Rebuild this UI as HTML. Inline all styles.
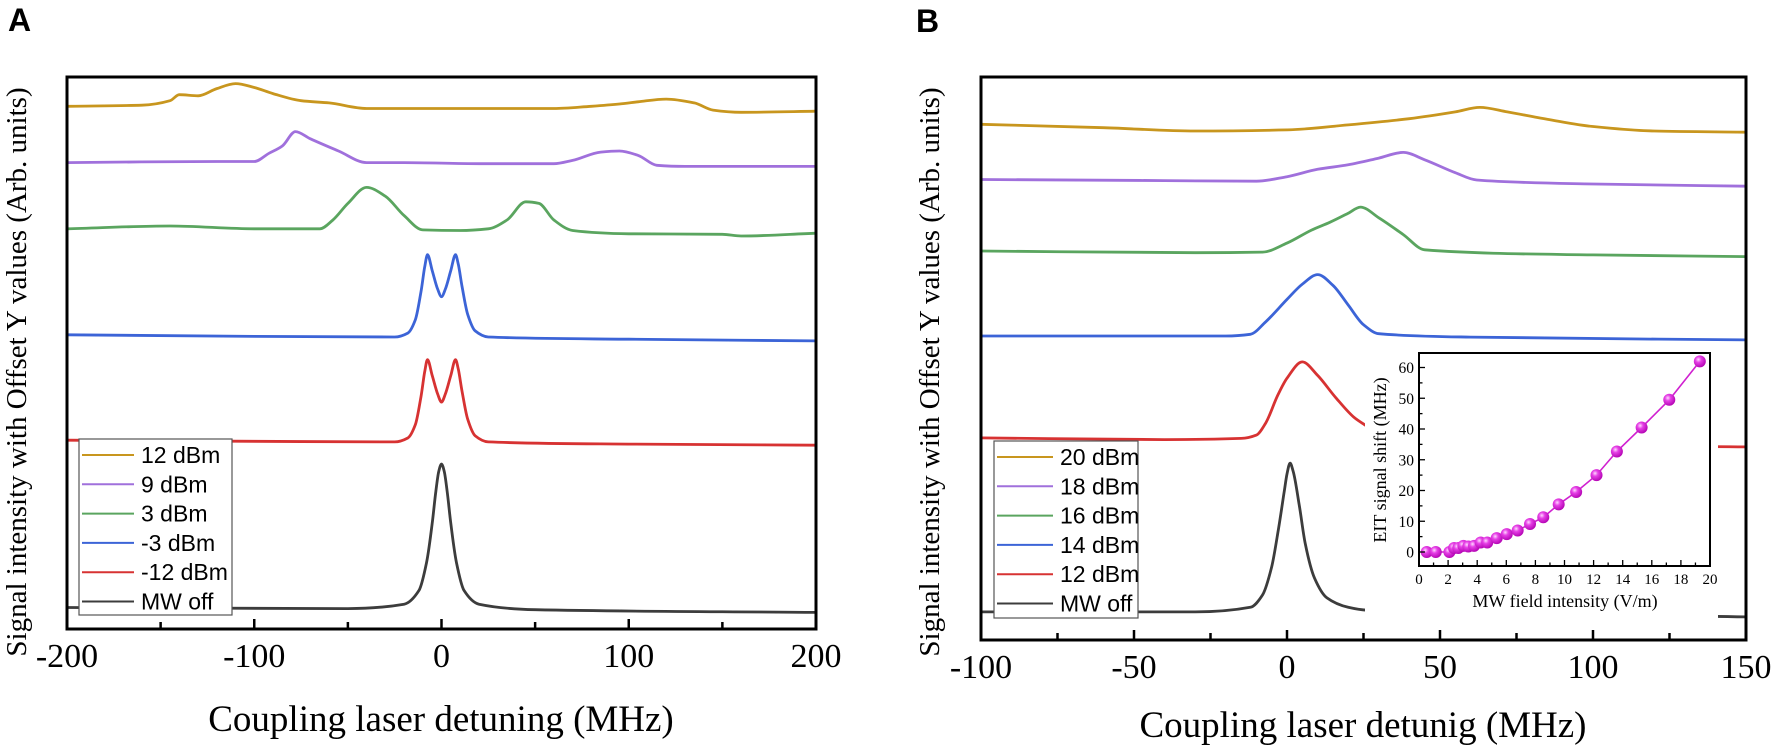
<!DOCTYPE html>
<html><head><meta charset="utf-8"><style>
html,body{margin:0;padding:0;background:#fff;}
svg{display:block;}
.serif{font-family:"Liberation Serif",serif;}
.sans{font-family:"Liberation Sans",sans-serif;}
</style></head><body>
<svg id="fig" width="1772" height="749" viewBox="0 0 1772 749" xmlns="http://www.w3.org/2000/svg">
<defs>
<radialGradient id="ballGrad" cx="0.38" cy="0.35" r="0.7">
<stop offset="0" stop-color="#ffd9ff"/><stop offset="0.35" stop-color="#e640e6"/><stop offset="1" stop-color="#b000b0"/>
</radialGradient>
</defs>
<g id="panelA"></g>
<g id="panelB"></g>
<g id="inset"></g>
</svg>
<script>
// ---------- Panel A data ----------
const aGoldX=[-200,-160,-145,-140,-130,-120,-110,-100,-90,-75,-60,-40,0,60,80,95,105,120,135,145,160,200];
const aGoldY=[94.7,94.9,95.7,96.8,96.6,97.9,98.8,98.1,97.0,95.7,95.3,94.3,94.3,94.3,94.7,95.1,95.5,96.0,95.3,94.0,93.6,93.8];
const aPurpleX=[-200,-120,-100,-92,-85,-78,-70,-55,-40,-20,20,60,70,85,95,105,115,130,200];
const aPurpleY=[84.5,84.7,84.7,86.2,87.5,90.1,88.8,86.6,84.5,84.5,84.3,84.3,84.9,86.4,86.6,85.8,84.0,83.8,83.8];
const aGreenX=[-200,-145,-100,-65,-58,-50,-40,-30,-20,-10,10,25,35,45,52,60,70,100,150,160,200];
const aGreenY=[72.5,73.0,72.5,72.5,74.1,77.1,80.0,78.4,74.9,72.3,72.2,72.5,74.1,77.4,77.1,74.1,72.2,71.6,71.5,71.2,71.7];
const aBlueX=[-200,-100,-25,-18,-14,-11,-9,-7.5,-5,-2,0,2,5,7.5,9,11,14,18,25,100,200];
const aBlueY=[53.3,53.0,52.9,53.6,56,61,65.5,67.8,65,61.5,60.2,61.5,65,67.8,66,62,57,54,52.9,52.5,52.2];
const aRedX=[-200,-100,-25,-18,-14,-11,-9,-7.5,-5,-2,0,2,5,7.5,9,11,14,18,25,100,200];
const aRedY=[34.2,34.0,33.9,34.6,37,42,46.5,48.8,46,42.5,41.1,42.5,46,48.8,47,43,38,35,33.9,33.5,33.3];
const aBlackX=[-200,-50,-20,-12,-8,-5,-3,-1.5,0,1.5,3,5,8,12,20,50,200];
const aBlackY=[3.9,3.7,4.5,7,12,19,25,28.5,29.9,28.5,25,19,12,7,4.5,3.5,3.0];
const aTicks=[-200,-100,0,100,200];
const aLegend=["12 dBm","9 dBm","3 dBm","-3 dBm","-12 dBm","MW off"];

// ---------- Panel B data ----------
const bGoldX=[-100,-60,-30,0,20,40,55,63,72,85,100,120,150];
const bGoldY=[91.6,91.0,90.4,90.6,91.5,92.6,93.8,94.6,93.8,92.5,91.2,90.4,90.2];
const bPurpleX=[-100,-40,-10,0,10,20,30,38,45,55,62,100,150];
const bPurpleY=[81.8,81.6,81.5,82.3,83.6,84.4,85.6,86.6,85.3,83,81.7,81,80.6];
const bGreenX=[-100,-30,-8,0,8,14,20,24,30,38,45,100,150];
const bGreenY=[69.1,68.8,68.9,70.5,72.8,74.2,75.8,76.9,75,72,69.3,68.4,68.1];
const bBlueX=[-100,-20,-12,-7,0,5,10,15,20,25,30,60,150];
const bBlueY=[54,54,54.3,56.5,60.5,63.2,64.9,63,59.5,56,54.4,53.8,53.3];
const bRedX=[-100,-40,-15,-10,-7,-3,0,5,10,16,22,26,30,60,150];
const bRedY=[35.9,35.6,35.8,36.4,38.5,43.5,46.5,49.4,47,43,39.5,38,36.5,34.8,34.3];
const bBlackX=[-100,-30,-12,-8,-5,-3,-1,0,1,2,4,6,9,13,20,26,150];
const bBlackY=[5,5,5.8,8,13,19,26,29.5,31.4,30,24,17,11,7.5,5.8,5.3,4.1];
const bTicks=[-100,-50,0,50,100,150];
const bLegend=["20 dBm","18 dBm","16 dBm","14 dBm","12 dBm","MW off"];

// ---------- Inset data ----------
const insetField=[0.53,1.15,2.09,2.41,2.7,3.05,3.39,3.78,4.24,4.69,5.34,6.03,6.78,7.63,8.54,9.6,10.8,12.2,13.6,15.3,17.2,19.3];
const insetShift=[0,0,0,1.3,1.3,2,1.8,2,3.1,3.1,4.5,5.8,7,9.1,11.3,15.5,19.5,25,32.7,40.5,49.5,62];
const insetXTicks=[0,2,4,6,8,10,12,14,16,18,20];
const insetYTicks=[0,10,20,30,40,50,60];

const colors=["#c8961e","#a070dc","#5aa55f","#3c64d7","#d73232","#3c3c3c"];
const NS="http://www.w3.org/2000/svg";
function mk(tag,attrs,parent){const e=document.createElementNS(NS,tag);for(const k in attrs)e.setAttribute(k,attrs[k]);if(parent)parent.appendChild(e);return e;}
// monotone cubic (Fritsch-Carlson) path through points with increasing x
function monoPath(pts){
  const n=pts.length;const dx=[],m=[],t=[];
  for(let i=0;i<n-1;i++){dx[i]=pts[i+1][0]-pts[i][0];m[i]=(pts[i+1][1]-pts[i][1])/dx[i];}
  t[0]=m[0];t[n-1]=m[n-2];
  for(let i=1;i<n-1;i++){
    if(m[i-1]*m[i]<=0)t[i]=0;
    else{const w1=2*dx[i]+dx[i-1],w2=dx[i]+2*dx[i-1];t[i]=(w1+w2)/(w1/m[i-1]+w2/m[i]);}
  }
  let d="M"+pts[0][0].toFixed(1)+","+pts[0][1].toFixed(1);
  for(let i=0;i<n-1;i++){
    const h=dx[i]/3;
    d+=" C"+(pts[i][0]+h).toFixed(1)+","+(pts[i][1]+t[i]*h).toFixed(1)+" "+(pts[i+1][0]-h).toFixed(1)+","+(pts[i+1][1]-t[i+1]*h).toFixed(1)+" "+pts[i+1][0].toFixed(1)+","+pts[i+1][1].toFixed(1);
  }
  return d;
}

function panel(g,cfg){
  const sx=v=>cfg.l+(v-cfg.xmin)/(cfg.xmax-cfg.xmin)*(cfg.r-cfg.l);
  const sy=v=>cfg.b-v/100*(cfg.b-cfg.t);
  const clipId="clip"+cfg.id;
  const cp=mk("clipPath",{id:clipId},g);mk("rect",{x:cfg.l,y:cfg.t,width:cfg.r-cfg.l,height:cfg.b-cfg.t},cp);
  const sg=mk("g",{"clip-path":"url(#"+clipId+")"},g);
  cfg.series.forEach((s,i)=>{
    const pts=s[0].map((x,j)=>[sx(x),sy(s[1][j])]);
    const p=mk("path",{d:monoPath(pts),fill:"none",stroke:colors[i],"stroke-width":2.8,"stroke-linejoin":"round"},sg);
    
    
  });
  const fr=mk("rect",{x:cfg.l,y:cfg.t,width:cfg.r-cfg.l,height:cfg.b-cfg.t,fill:"none",stroke:"#000","stroke-width":3},g);
  
  
  const step=cfg.ticks[1]-cfg.ticks[0];
  for(let v=cfg.xmin;v<=cfg.xmax+1e-9;v+=step/2){
    const major=cfg.ticks.some(t=>Math.abs(t-v)<1e-9);
    mk("line",{x1:sx(v),x2:sx(v),y1:cfg.b,y2:cfg.b-(major?10:7),stroke:"#000","stroke-width":2.5},g);
  }
  cfg.ticks.forEach(v=>{
    const t=mk("text",{x:sx(v),y:cfg.tickY,"text-anchor":"middle","font-size":34,class:"serif"},g);
    t.textContent=(v<0?"-":"")+Math.abs(v);
    
    
  });
  const lg=mk("g",{},g);
  
  
  mk("rect",{x:cfg.lg.x,y:cfg.lg.y,width:cfg.lg.w,height:cfg.lg.h,fill:"#fff",stroke:"#555","stroke-width":1.2},lg);
  cfg.legend.forEach((name,i)=>{
    const yy=cfg.lg.y+16+i*29.3;
    mk("line",{x1:cfg.lg.x+3,x2:cfg.lg.x+cfg.lg.lineW,y1:yy,y2:yy,stroke:colors[i],"stroke-width":2},lg);
    const t=mk("text",{x:cfg.lg.x+cfg.lg.lineW+7,y:yy+8,"font-size":23,class:"sans"},lg);
    t.textContent=name;
    
    
  });
}

const gA=document.getElementById("panelA");
panel(gA,{id:"A",l:67,r:816,t:77,b:629,xmin:-200,xmax:200,ticks:aTicks,tickY:667,legend:aLegend,
  series:[[aGoldX,aGoldY],[aPurpleX,aPurpleY],[aGreenX,aGreenY],[aBlueX,aBlueY],[aRedX,aRedY],[aBlackX,aBlackY]],
  lg:{x:79,y:439,w:153,h:176,lineW:55}});
const gB=document.getElementById("panelB");
panel(gB,{id:"B",l:981,r:1746,t:77,b:640,xmin:-100,xmax:150,ticks:bTicks,tickY:678,legend:bLegend,
  series:[[bGoldX,bGoldY],[bPurpleX,bPurpleY],[bGreenX,bGreenY],[bBlueX,bBlueY],[bRedX,bRedY],[bBlackX,bBlackY]],
  lg:{x:994,y:441,w:144,h:177,lineW:59}});

// ---------- Inset ----------
const gi=document.getElementById("inset");
mk("rect",{x:1365,y:345,width:353,height:280,fill:"#fff"},gi);
const IL=1419,IR=1710,IT=353,IB=566,IY0=552,IYS=3.075;
const ix=v=>IL+v/20*(IR-IL);
const iy=v=>IY0-v*IYS;
const ipts=insetField.map((x,j)=>[ix(x),iy(insetShift[j])]);
const il=mk("polyline",{points:ipts.map(p=>p[0].toFixed(1)+","+p[1].toFixed(1)).join(" "),fill:"none",stroke:"#d020d0","stroke-width":1.6},gi);


ipts.forEach(p=>{
  const c=mk("circle",{cx:p[0],cy:p[1],r:6,fill:"url(#ballGrad)"},gi);
  
  
});
mk("rect",{x:IL,y:IT,width:IR-IL,height:IB-IT,fill:"none",stroke:"#000","stroke-width":2},gi);
for(let v=0;v<=20;v+=1){mk("line",{x1:ix(v),x2:ix(v),y1:IB,y2:IB-(v%2===0?6:3.5),stroke:"#000","stroke-width":1.3},gi);}
for(let v=0;v<=60;v+=5){mk("line",{x1:IL,x2:IL+(v%10===0?6:3.5),y1:iy(v),y2:iy(v),stroke:"#000","stroke-width":1.3},gi);}
insetXTicks.forEach(v=>{const t=mk("text",{x:ix(v),y:584,"text-anchor":"middle","font-size":15,class:"serif"},gi);t.textContent=v;
  
  });
insetYTicks.forEach(v=>{const t=mk("text",{x:IL-5,y:iy(v)+5.5,"text-anchor":"end","font-size":15.5,class:"serif"},gi);t.textContent=v;
  
  });
</script>
<div style="position:absolute;left:0;top:0;width:1772px;height:749px;pointer-events:none">
<svg width="1772" height="749" style="position:absolute;left:0;top:0">
<text x="8" y="31" font-size="32" font-weight="bold" class="sans">A</text>
<text x="916" y="32" font-size="32" font-weight="bold" class="sans">B</text>
<text transform="translate(26,372) rotate(-90)" text-anchor="middle" font-size="29" class="serif">Signal intensity with Offset Y values (Arb. units)</text>
<text transform="translate(939,372) rotate(-90)" text-anchor="middle" font-size="29" class="serif">Signal intensity with Offset Y values (Arb. units)</text>
<text x="441" y="731" text-anchor="middle" font-size="37" class="serif">Coupling laser detuning (MHz)</text>
<text x="1363" y="737" text-anchor="middle" font-size="37" class="serif">Coupling laser detunig (MHz)</text>
<text transform="translate(1386,460) rotate(-90)" text-anchor="middle" font-size="18" class="serif">EIT signal shift (MHz)</text>
<text x="1565" y="607" text-anchor="middle" font-size="18" class="serif">MW field intensity (V/m)</text>
</svg>
</div>
</body></html>
